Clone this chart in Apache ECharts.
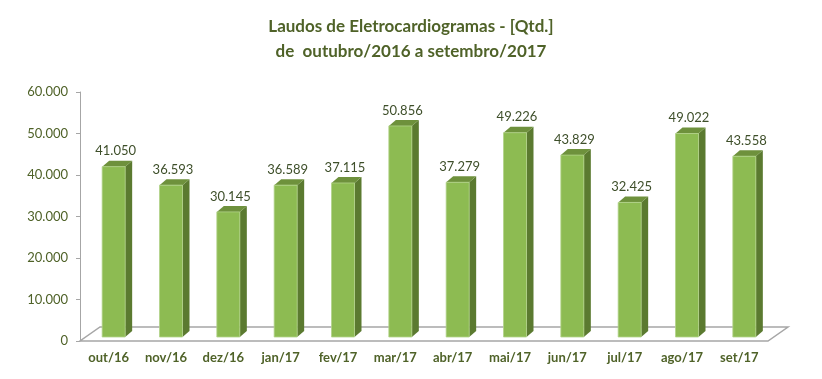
<!DOCTYPE html>
<html>
<head>
<meta charset="utf-8">
<script src="https://cdn.jsdelivr.net/npm/echarts@6/dist/echarts.min.js"></script>
<style>html,body{margin:0;padding:0;background:#fff}#c{width:822px;height:379px}</style>
</head>
<body>
<div id="c"></div>
<script>
var categories = ['out/16','nov/16','dez/16','jan/17','fev/17','mar/17','abr/17','mai/17','jun/17','jul/17','ago/17','set/17'];
var values = [41050, 36593, 30145, 36589, 37115, 50856, 37279, 49226, 43829, 32425, 49022, 43558];
var yTicks = [0, 10000, 20000, 30000, 40000, 50000, 60000];

function fmt(v) {
  var s = String(Math.round(v));
  return s.replace(/\B(?=(\d{3})+(?!\d))/g, '.');
}
var FONT = 'Lato, "Noto Sans", sans-serif';
var TXT = '#4F6228';
var chart = echarts.init(document.getElementById('c'));
chart.setOption({
  animation: false,
  title: {
    text: 'Laudos de Eletrocardiogramas - [Qtd.]\nde  outubro/2016 a setembro/2017',
    left: 'center', top: 9,
    textStyle: { fontFamily: FONT, fontSize: 17, fontWeight: 'bold', color: TXT, lineHeight: 25 }
  },
  grid: { left: 80, right: 54, top: 92, bottom: 38 },
  xAxis: {
    type: 'category', data: categories,
    axisLine: { show: false }, axisTick: { show: false },
    axisLabel: { fontFamily: FONT, fontSize: 13, fontWeight: 'bold', color: TXT, margin: 10 }
  },
  yAxis: {
    type: 'value', min: yTicks[0], max: yTicks[yTicks.length - 1], interval: 10000,
    axisLine: { show: true, lineStyle: { color: '#A6A6A6', width: 1 } },
    axisTick: { show: true, length: 4, lineStyle: { color: '#A6A6A6' } },
    splitLine: { show: false },
    axisLabel: { fontFamily: FONT, fontSize: 13, color: TXT, margin: 12, formatter: function (v) { return fmt(v); } }
  },
  series: [
    {
      type: 'custom', silent: true, z: 1,
      data: [[0, 0]],
      renderItem: function (params, api) {
        var p0 = api.coord([0, 0]);
        var pN = api.coord([categories.length - 1, 0]);
        var bw = api.size([1, 0])[0];
        var l = p0[0] - bw / 2, r = pN[0] + bw / 2, y = p0[1];
        var dx = 20, dy = -14;
        return {
          type: 'polygon',
          shape: { points: [[l, y], [r, y], [r + dx, y + dy], [l + dx, y + dy]] },
          style: { fill: '#FFFFFF', stroke: '#A6A6A6', lineWidth: 1.5 }
        };
      }
    },
    {
      type: 'custom', silent: true, z: 2,
      data: values.map(function (v, i) { return [i, v]; }),
      renderItem: function (params, api) {
        var i = api.value(0), v = api.value(1);
        var pt = api.coord([i, v]);
        var pb = api.coord([i, 0]);
        var cx = pt[0] + 5, w = 23, dx = 7, dy = -6, off = -4;
        var l = cx - w / 2, r = cx + w / 2;
        var top = pt[1] + off, bot = pb[1] + off;
        return {
          type: 'group',
          children: [
            { type: 'polygon', shape: { points: [[r, top], [r + dx, top + dy], [r + dx, bot + dy], [r, bot]] },
              style: { fill: '#5B7A30' } },
            { type: 'polygon', shape: { points: [[l, top], [l + dx, top + dy], [r + dx, top + dy], [r, top]] },
              style: { fill: '#6E913C' } },
            { type: 'rect', shape: { x: l, y: top, width: w, height: bot - top },
              style: { fill: '#8DBB52', stroke: '#B3D38A', lineWidth: 0.8 } },
            { type: 'text', x: cx + 2, y: top + dy - 3,
              style: { text: fmt(v), fontFamily: FONT, fontSize: 13, fill: '#3E4F2A', align: 'center', verticalAlign: 'bottom' } }
          ]
        };
      }
    }
  ]
});
</script>
</body>
</html>
